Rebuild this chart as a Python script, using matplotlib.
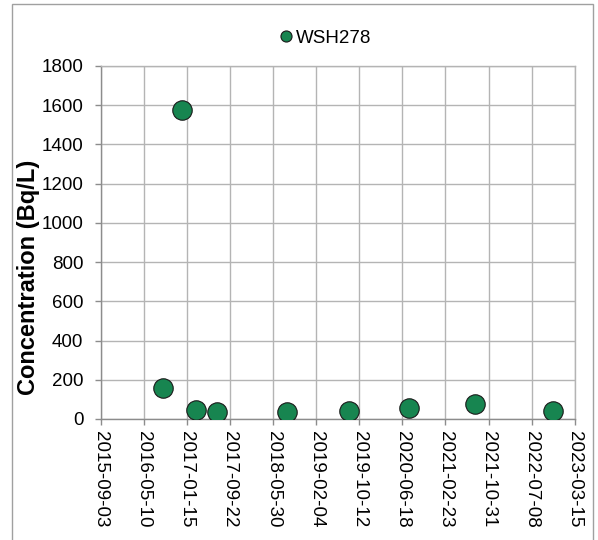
"""Scatter of WSH278 concentration over time."""

import datetime as dt

import matplotlib

matplotlib.use("Agg")
import matplotlib.dates as mdates
import matplotlib.pyplot as plt
from matplotlib.patches import Rectangle

plt.rcParams["font.family"] = ["Liberation Sans", "DejaVu Sans"]

series_name = "WSH278"
sample_dates = [
    "2016-08-28",
    "2016-12-16",
    "2017-03-07",
    "2017-07-10",
    "2018-08-17",
    "2019-08-15",
    "2020-07-27",
    "2021-08-11",
    "2022-11-09",
]
concentrations = [158, 1575, 44, 35, 38, 41, 57, 74, 40]

tick_start = "2015-09-03"
tick_step_days = 250
tick_count = 12

dates = [dt.datetime.strptime(d, "%Y-%m-%d") for d in sample_dates]
start = dt.datetime.strptime(tick_start, "%Y-%m-%d")
ticks = [start + dt.timedelta(days=tick_step_days * i) for i in range(tick_count)]

fig = plt.figure(figsize=(5.98, 5.4), dpi=100)
ax = fig.add_axes([0.1684, 0.2241, 0.7926, 0.6537])

ax.plot(dates, concentrations, linestyle="none", marker="o", markersize=14,
        markerfacecolor="#178550", markeredgecolor="#1a1a1a", markeredgewidth=0.8,
        label=series_name, zorder=3)

ax.set_xlim(ticks[0], ticks[-1])
ax.set_xticks(ticks)
ax.xaxis.set_major_formatter(mdates.DateFormatter("%Y-%m-%d"))
ax.set_ylim(0, 1800)
ax.set_yticks(range(0, 1801, 200))

ax.grid(True, color="#b4b4b4", linewidth=1.0)
ax.set_axisbelow(True)
for side in ("top", "right", "left", "bottom"):
    ax.spines[side].set_color("#b4b4b4")
    ax.spines[side].set_linewidth(1.0)
ax.spines["left"].set_color("#8c8c8c")
ax.spines["bottom"].set_color("#8c8c8c")

ax.tick_params(axis="both", labelsize=13.5, colors="#8c8c8c", labelcolor="black",
               length=4.5, width=1.0, direction="out")
ax.tick_params(axis="y", pad=8)
ax.tick_params(axis="x", labelrotation=270, pad=4)

ax.set_ylabel("Concentration (Bq/L)", fontsize=17, fontweight="bold")
ax.yaxis.set_label_coords(-0.128, 0.40)

ax.legend(loc="center", bbox_to_anchor=(0.473, 1.079), frameon=False,
          fontsize=13.5, markerscale=0.57, handlelength=0.8, handletextpad=0.15,
          borderaxespad=0.0, borderpad=0.0)

fig.patches.append(Rectangle((12 / 598, -0.01), 581 / 598, 1.01 - 3.5 / 540,
                             transform=fig.transFigure, fill=False,
                             edgecolor="#a0a0a0", linewidth=1.0))

fig.savefig("out.png", dpi=100)
